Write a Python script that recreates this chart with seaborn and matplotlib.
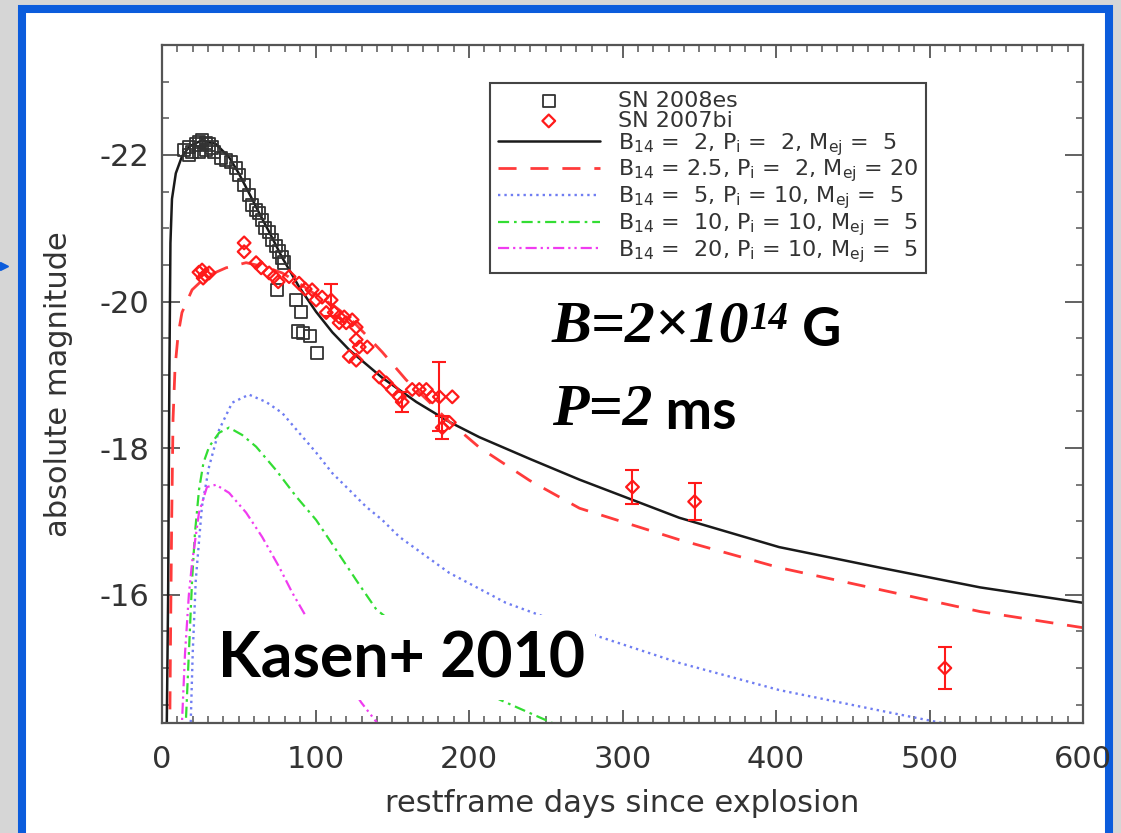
import matplotlib
matplotlib.use("Agg")
import matplotlib.pyplot as plt
from matplotlib.patches import Rectangle
from matplotlib.lines import Line2D
from matplotlib.ticker import MultipleLocator
import seaborn as sns

# ---- magnetar model light curves ----
m1_days = [3.0, 4.0, 4.8, 5.5, 6.5, 9.0, 13.0, 18.0, 26.0, 35.0, 43.7, 50.0, 56.7, 63.0,
           69.8, 78.3, 89.3, 100.4, 111.0, 122.0, 143.5, 165.7, 187.0, 206.7, 240.0,
           272.0, 337.0, 402.0, 467.6, 533.0, 600.0]
m1_mag = [-14.0, -16.0, -19.0, -20.8, -21.4, -21.75, -21.98, -22.12, -22.2, -22.15, -21.97,
          -21.75, -21.48, -21.22, -20.95, -20.6, -20.2, -19.86, -19.58, -19.34, -18.96,
          -18.63, -18.36, -18.15, -17.85, -17.57, -17.05, -16.65, -16.37, -16.10, -15.89]

m2_days = [5.0, 5.6, 6.3, 7.2, 8.5, 10.5, 13.0, 19.6, 28.7, 41.7, 54.8, 67.8, 78.3, 89.3,
           100.4, 111.5, 122.0, 133.1, 143.5, 159.1, 174.1, 187.2, 206.7, 239.4, 272.0,
           337.0, 402.0, 467.6, 533.0, 600.0]
m2_mag = [-14.0, -15.5, -17.0, -18.4, -19.1, -19.55, -19.85, -20.16, -20.34, -20.46, -20.53,
          -20.47, -20.39, -20.25, -20.09, -19.95, -19.78, -19.54, -19.31, -18.93, -18.63,
          -18.36, -18.01, -17.56, -17.18, -16.75, -16.37, -16.07, -15.77, -15.55]

m3_days = [18.3, 18.7, 20.0, 22.0, 26.0, 30.7, 37.2, 45.7, 56.7, 67.8, 78.3, 89.3, 100.4,
           110.9, 122.0, 133.0, 143.5, 154.6, 187.0, 224.0, 283.0, 337.0, 402.0, 467.6, 520.0]
m3_mag = [-14.0, -14.25, -15.2, -16.2, -17.2, -17.75, -18.25, -18.62, -18.73, -18.63, -18.48,
          -18.21, -17.94, -17.66, -17.43, -17.20, -17.02, -16.79, -16.30, -15.89, -15.44,
          -15.07, -14.70, -14.42, -14.2]

m4_days = [15.2, 15.5, 17.5, 19.6, 21.5, 24.1, 27.0, 30.7, 37.2, 43.7, 52.2, 61.3, 74.3,
           87.4, 100.4, 113.5, 126.5, 139.6, 174.0, 219.8, 254.3, 270.0]
m4_mag = [-14.0, -14.25, -15.2, -16.2, -16.85, -17.43, -17.8, -18.02, -18.21, -18.28, -18.18,
          -18.02, -17.70, -17.34, -17.02, -16.61, -16.20, -15.80, -15.22, -14.57, -14.25, -14.05]

m5_days = [12.5, 13.0, 15.0, 17.5, 19.6, 24.1, 29.3, 35.2, 43.7, 54.8, 65.2, 76.3, 84.8,
           93.9, 112.0, 129.8, 140.2, 146.0]
m5_mag = [-14.0, -14.25, -15.2, -16.0, -16.44, -17.12, -17.47, -17.5, -17.39, -17.12, -16.79,
          -16.38, -16.03, -15.70, -15.10, -14.53, -14.25, -14.05]

model_labels = [
    r"B$_{14}$ =  2, P$_\mathrm{i}$ =  2, M$_\mathrm{ej}$ =  5",
    r"B$_{14}$ = 2.5, P$_\mathrm{i}$ =  2, M$_\mathrm{ej}$ = 20",
    r"B$_{14}$ =  5, P$_\mathrm{i}$ = 10, M$_\mathrm{ej}$ =  5",
    r"B$_{14}$ =  10, P$_\mathrm{i}$ = 10, M$_\mathrm{ej}$ =  5",
    r"B$_{14}$ =  20, P$_\mathrm{i}$ = 10, M$_\mathrm{ej}$ =  5",
]

# ---- observed supernovae ----
es_days = [14.3, 17.6, 19.6, 22.2, 24.1, 26.1, 28.7, 30.7, 32.6, 17.6, 24.1, 28.7, 33.9, 38.5,
           41.7, 45.0, 48.3, 50.2, 53.5, 56.7, 58.7, 61.3, 63.3, 65.2, 67.2, 69.8, 71.7, 74.3,
           76.3, 78.3, 79.6, 75.0, 87.4, 90.7, 88.7, 92.0, 96.5, 101.1]
es_mag = [-22.07, -22.11, -22.04, -22.14, -22.18, -22.20, -22.16, -22.14, -22.10, -22.00,
          -22.04, -22.07, -22.04, -21.96, -21.93, -21.90, -21.82, -21.73, -21.59, -21.45,
          -21.32, -21.25, -21.21, -21.11, -21.00, -20.95, -20.84, -20.76, -20.68, -20.60,
          -20.53, -20.16, -20.02, -19.86, -19.59, -19.57, -19.53, -19.30]

bi_days = [24.1, 26.1, 28.1, 30.7, 26.8, 53.5, 53.5, 61.3, 64.6, 69.8, 73.0, 75.7, 82.8, 89.3,
           93.3, 97.8, 100.4, 104.3, 107.0, 112.2, 115.4, 118.7, 115.4, 120.0, 123.9, 126.5,
           126.5, 128.5, 133.7, 122.0, 126.5, 141.5, 146.1, 150.0, 154.6, 163.0, 167.6, 172.2,
           176.1, 189.1, 187.2]
bi_mag = [-20.40, -20.43, -20.36, -20.39, -20.32, -20.80, -20.68, -20.53, -20.46, -20.39,
          -20.34, -20.27, -20.34, -20.25, -20.17, -20.16, -20.02, -20.06, -19.85, -19.85,
          -19.79, -19.79, -19.71, -19.71, -19.75, -19.65, -19.48, -19.38, -19.38, -19.25,
          -19.20, -18.97, -18.89, -18.80, -18.70, -18.80, -18.80, -18.80, -18.70, -18.70, -18.35]

bi_err_days = [110.2, 156.5, 180.7, 182.6, 306.5, 347.0, 510.0]
bi_err_mag = [-20.02, -18.63, -18.70, -18.28, -17.47, -17.27, -15.00]
bi_err = [0.22, 0.14, 0.47, 0.16, 0.23, 0.25, 0.29]

sns.set_style("white")
plt.rcParams.update({
    "font.family": ["DejaVu Sans"],
    "mathtext.fontset": "dejavusans",
    "axes.unicode_minus": False,
    "xtick.direction": "in",
    "ytick.direction": "in",
    "xtick.top": True,
    "ytick.right": True,
    "xtick.bottom": True,
    "ytick.left": True,
    "text.color": "black",
})

W, H = 1121, 833
fig = plt.figure(figsize=(W / 100, H / 100), dpi=100, facecolor="#d6d6d6")
# slide panel with blue frame
fig.add_artist(Rectangle((22 / W, -0.01), (1109 - 22) / W, 1 - 9 / H + 0.01,
                         transform=fig.transFigure, facecolor="white",
                         edgecolor="#0b5cdc", linewidth=5.8, zorder=-1))
fig.add_artist(Line2D([4 / W], [1 - 266 / H], marker=">", markersize=6, color="#0b5cdc",
                      transform=fig.transFigure))

ax = fig.add_axes([162 / W, 1 - 723 / H, (1083 - 162) / W, (723 - 45) / H])
ax.set_facecolor("white")

styles = [
    dict(color="#1a1a1a", linewidth=1.8, linestyle="-"),
    dict(color="#ff3b3b", linewidth=2.0, linestyle=(0, (6.5, 5))),
    dict(color="#6f7df2", linewidth=1.7, linestyle=(0, (1, 1.7))),
    dict(color="#33dd33", linewidth=1.6, linestyle=(0, (5, 2.2, 1.2, 2.2))),
    dict(color="#f03cf0", linewidth=1.6, linestyle=(0, (5, 1.8, 1, 1.8, 1, 1.8))),
]
curves = [(m1_days, m1_mag), (m2_days, m2_mag), (m3_days, m3_mag),
          (m4_days, m4_mag), (m5_days, m5_mag)]
for (xd, yd), st, lab in zip(curves, styles, model_labels):
    sns.lineplot(x=xd, y=yd, ax=ax, sort=False, estimator=None, label=lab, zorder=2, **st)

sns.scatterplot(x=es_days, y=es_mag, ax=ax, marker="s", s=80, facecolors="none",
                edgecolor="#333333", linewidth=1.3, label="SN 2008es", zorder=3)
ax.errorbar(bi_err_days, bi_err_mag, yerr=bi_err, fmt="none", ecolor="#ff1a1a",
            elinewidth=1.5, capsize=5, capthick=1.5, zorder=3)
sns.scatterplot(x=bi_days + bi_err_days, y=bi_mag + bi_err_mag, ax=ax, marker="D", s=42,
                facecolors="none", edgecolor="#ff1a1a", linewidth=1.6, label="SN 2007bi",
                zorder=3)

ax.set_xlim(0, 600)
ax.set_ylim(-14.25, -23.5)
ax.xaxis.set_major_locator(MultipleLocator(100))
ax.xaxis.set_minor_locator(MultipleLocator(10))
ax.yaxis.set_major_locator(MultipleLocator(2))
ax.yaxis.set_minor_locator(MultipleLocator(0.5))
ax.tick_params(axis="x", which="major", length=9.5, width=1.3, color="#555555",
               labelsize=22, labelcolor="#333333", pad=16)
ax.tick_params(axis="y", which="major", length=13, width=1.3, color="#555555",
               labelsize=22, labelcolor="#333333", pad=9)
ax.tick_params(which="minor", length=5, width=1.1, color="#555555")
for sp in ax.spines.values():
    sp.set_color("#555555")
    sp.set_linewidth(1.6)

ax.set_xlabel("restframe days since explosion", fontsize=22, color="#333333", labelpad=11)
ax.set_ylabel("absolute magnitude", fontsize=22, color="#333333", labelpad=19)

handles, labels = ax.get_legend_handles_labels()
lookup = dict(zip(labels, handles))
order = ["SN 2008es", "SN 2007bi"] + model_labels
leg = ax.legend([lookup[k] for k in order], order, loc="upper left",
                bbox_to_anchor=(0.356, 0.944), borderaxespad=0, fontsize=16,
                frameon=True, fancybox=False, framealpha=1, edgecolor="#444444",
                handlelength=4.6, handletextpad=0.8, labelspacing=0.0,
                borderpad=0.35, scatterpoints=1)
leg.get_frame().set_linewidth(1.5)
for t in leg.get_texts():
    t.set_color("#333333")
leg.set_zorder(6)

# annotations
ax.add_patch(Rectangle((0.041, 0.034), 0.429, 0.125, transform=ax.transAxes,
                       facecolor="white", edgecolor="none", zorder=4))
ax.text(0.0608, 0.0678, "Kasen+ 2010", transform=ax.transAxes, fontfamily="Lato",
        fontweight="bold", fontsize=45, va="baseline", ha="left", color="black", zorder=5)

serif = dict(fontfamily="Liberation Serif", fontweight="bold", fontstyle="italic",
             color="black")
sans = dict(fontfamily="Lato", fontweight="bold", color="black")
t1 = ax.text(0.4235, 0.562, "B=2×10", transform=ax.transAxes, fontsize=43,
             va="baseline", ha="left", zorder=5, **serif)
t2 = ax.annotate("14", xy=(1, 1), xycoords=t1, va="top", ha="left", fontsize=28,
                 zorder=5, **serif)
ax.annotate(" G", xy=(1, 0), xycoords=(t2, t1), va="bottom", ha="left", fontsize=39,
            zorder=5, **sans)
t4 = ax.text(0.4235, 0.4395, "P=2", transform=ax.transAxes, fontsize=43,
             va="baseline", ha="left", zorder=5, **serif)
ax.annotate(" ms", xy=(1, 0), xycoords=t4, va="bottom", ha="left", fontsize=40,
            zorder=5, **sans)

fig.savefig("out.png", dpi=100, facecolor=fig.get_facecolor())
